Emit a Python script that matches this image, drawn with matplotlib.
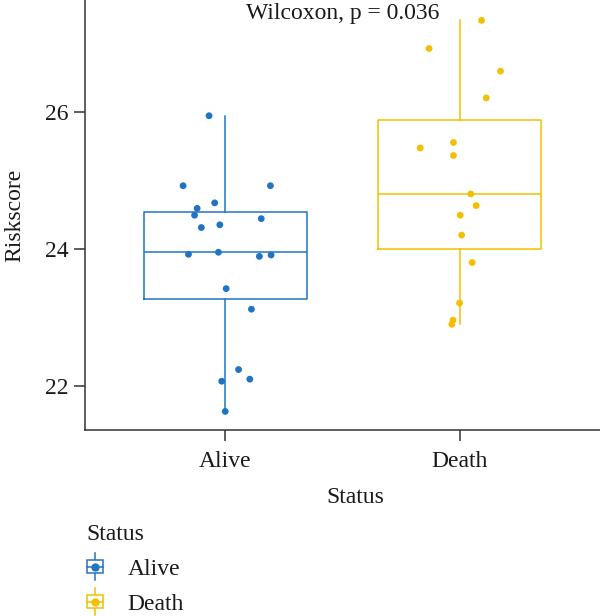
import matplotlib
matplotlib.use("Agg")
import matplotlib.pyplot as plt
from matplotlib.legend_handler import HandlerBase
from matplotlib.lines import Line2D
from matplotlib.patches import Rectangle

# ---------------- data ----------------
groups = ["Alive", "Death"]
colors = ["#1F74C3", "#F2C000"]

alive_y = [25.94, 24.92, 24.92, 24.67, 24.59, 24.49, 24.44, 24.31, 24.35, 23.92,
           23.95, 23.89, 23.91, 23.42, 23.12, 22.24, 22.10, 22.07, 21.63]
alive_dx = [-0.070, -0.181, 0.192, -0.046, -0.121, -0.132, 0.153, -0.103, -0.024, -0.158,
            -0.030, 0.145, 0.195, 0.003, 0.111, 0.056, 0.104, -0.016, -0.001]

death_y = [27.33, 26.92, 26.59, 26.20, 25.47, 25.55, 25.36, 24.80, 24.63, 24.49,
           24.20, 23.80, 23.21, 22.96, 22.90]
death_dx = [0.094, -0.130, 0.175, 0.114, -0.168, -0.026, -0.026, 0.048, 0.071, 0.003,
            0.009, 0.054, 0.000, -0.028, -0.033]

yticks = [22, 24, 26]
p_label = "Wilcoxon, p = 0.036"

# ---------------- figure ----------------
FONT = "Liberation Serif"
plt.rcParams["font.family"] = [FONT, "DejaVu Serif"]
FS = 17

W, H = 600, 616
fig = plt.figure(figsize=(W / 100, H / 100), dpi=100)
ax = fig.add_axes([85 / W, 186 / H, 515 / W, 430 / H])

values = [alive_y, death_y]
jitters = [alive_dx, death_dx]

for i, (vals, dx, col) in enumerate(zip(values, jitters, colors)):
    pos = i + 1
    ax.boxplot([vals], positions=[pos], widths=0.7, whis=1.5, showfliers=False,
               showcaps=False, patch_artist=False,
               boxprops=dict(color=col, linewidth=1.1),
               medianprops=dict(color=col, linewidth=1.1),
               whiskerprops=dict(color=col, linewidth=1.1),
               zorder=2)
    ax.scatter([pos + d for d in dx], vals, s=24, color=col, zorder=3,
               edgecolors="none")

ax.set_xlim(0.4, 2.6)
ax.set_ylim(21.359, 27.627)
ax.set_xticks([1, 2])
ax.set_xticklabels(groups)
ax.set_yticks(yticks)
ax.set_yticklabels([str(t) for t in yticks])

for s in ["top", "right"]:
    ax.spines[s].set_visible(False)
for s in ["left", "bottom"]:
    ax.spines[s].set_color("#333333")
    ax.spines[s].set_linewidth(1.1)
ax.tick_params(axis="both", length=8, width=1.1, color="#333333",
               labelsize=FS, labelcolor="#1a1a1a", pad=4)
ax.tick_params(axis="x", pad=7)

ax.set_ylabel("Riskscore", fontsize=FS, color="#1a1a1a")
ax.yaxis.set_label_coords((25 - 85) / 515, 0.5)
ax.set_xlabel("Status", fontsize=FS, color="#1a1a1a")
ax.xaxis.set_label_coords((355 - 85) / 515, (430 - 487) / 430)

ax.text(1.5, 27.35, p_label, ha="center", va="baseline", fontsize=FS,
        color="#1a1a1a")


# ---------------- legend ----------------
class BoxHandle:
    def __init__(self, color):
        self.color = color


class HandlerBox(HandlerBase):
    def create_artists(self, legend, orig_handle, xdescent, ydescent, width,
                       height, fontsize, trans):
        col = orig_handle.color
        cx = width / 2 - xdescent
        cy = height / 2 - ydescent
        bw, bh = width * 0.9, height * 0.75
        rect = Rectangle((cx - bw / 2, cy - bh / 2), bw, bh, facecolor="white",
                         edgecolor=col, linewidth=1.1, transform=trans)
        vline = Line2D([cx, cx], [cy - height * 0.8, cy + height * 0.8],
                       color=col, linewidth=1.1, transform=trans)
        hline = Line2D([cx - bw / 2, cx + bw / 2], [cy, cy], color=col,
                       linewidth=1.1, transform=trans)
        dot = Line2D([cx], [cy], marker="o", markersize=5, color=col,
                     linestyle="none", transform=trans)
        return [vline, rect, hline, dot]


handles = [BoxHandle(c) for c in colors]
leg = fig.legend(handles, groups, handler_map={BoxHandle: HandlerBox()},
                 loc="upper left", bbox_to_anchor=(86 / W, 1 - 524 / H),
                 frameon=False, fontsize=FS, title="Status",
                 title_fontsize=FS, alignment="left", borderpad=0,
                 borderaxespad=0, handlelength=0.75, handleheight=0.75,
                 handletextpad=1.0, labelspacing=0.55)
for t in leg.get_texts():
    t.set_color("#1a1a1a")
leg.get_title().set_color("#1a1a1a")

fig.savefig("out.png", dpi=100)
